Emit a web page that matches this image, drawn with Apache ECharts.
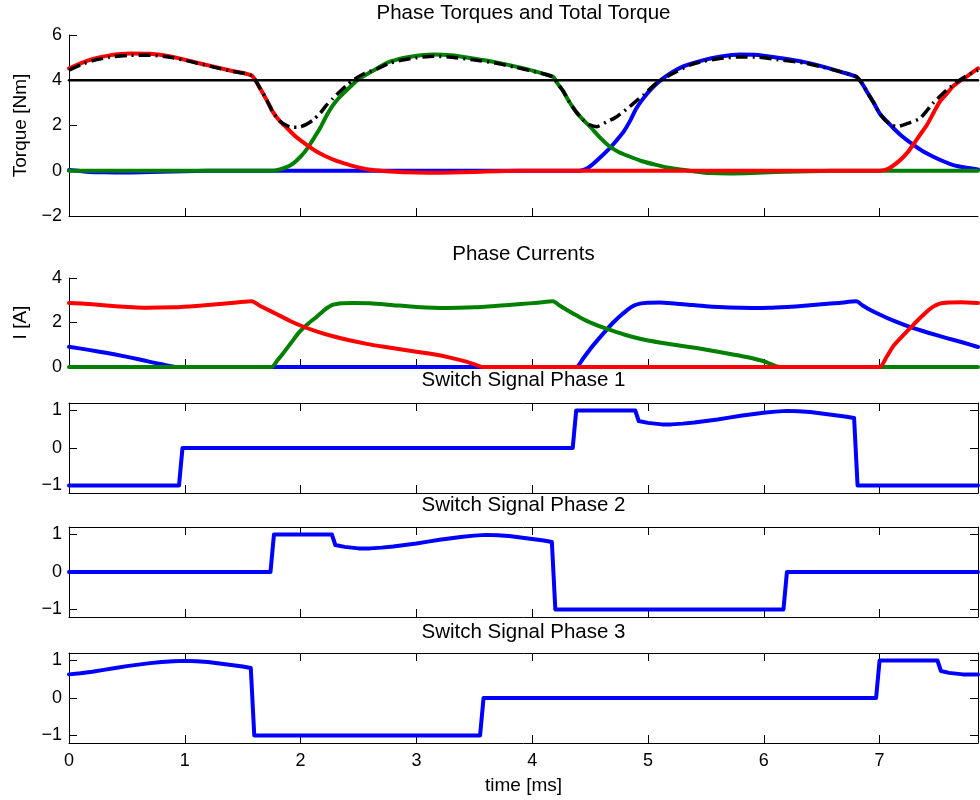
<!DOCTYPE html>
<html>
<head>
<meta charset="utf-8">
<script src="https://cdn.jsdelivr.net/npm/echarts@6/dist/echarts.min.js"></script>
<style>
  html, body { margin: 0; padding: 0; background: #fff; }
  #chart { width: 980px; height: 800px; }
</style>
</head>
<body>
<div id="chart"></div>
<script>
// ---- tick values ----
const timeTicks = [0, 1, 2, 3, 4, 5, 6, 7];
const torqueTicks = [-2, 0, 2, 4, 6];
const currentTicks = [0, 2, 4];
const switchTicks = [-1, 0, 1];

// ---- reference torque level [Nm] ----
const torqueRef = 4;

// ---- phase torques [t ms, Nm] ----
const torquePhase1 = [[0,0.03],[0.15,-0.04],[0.3,-0.07],[0.5,-0.08],[0.7,-0.06],[0.9,-0.03],[1.1,-0.01],[1.3,0],[4.40,0],[4.45,0.05],[4.5,0.19],[4.58,0.55],[4.67,1.0],[4.73,1.35],[4.79,1.73],[4.85,2.25],[4.9,2.76],[4.96,3.2],[5.02,3.57],[5.13,4.08],[5.3,4.6],[5.48,4.89],[5.62,5.04],[5.79,5.14],[5.95,5.12],[6.17,4.96],[6.35,4.8],[6.51,4.6],[6.68,4.35],[6.8,4.15],[6.85,3.85],[6.89,3.5],[6.95,3.0],[7.0,2.54],[7.06,2.2],[7.12,1.88],[7.2,1.5],[7.29,1.15],[7.37,0.87],[7.46,0.63],[7.55,0.42],[7.63,0.26],[7.75,0.13],[7.85,0.06]];
const torquePhase2 = [[0,0],[1.76,0],[1.82,0.06],[1.88,0.16],[1.94,0.34],[2.0,0.62],[2.06,1.0],[2.11,1.4],[2.17,1.9],[2.22,2.4],[2.28,2.9],[2.34,3.27],[2.4,3.57],[2.51,4.08],[2.66,4.52],[2.77,4.82],[2.95,5.04],[3.15,5.14],[3.3,5.1],[3.49,4.96],[3.68,4.8],[3.86,4.6],[4.02,4.4],[4.18,4.15],[4.22,3.85],[4.27,3.5],[4.32,3.05],[4.38,2.6],[4.44,2.25],[4.5,1.95],[4.58,1.5],[4.67,1.07],[4.75,0.82],[4.84,0.63],[4.95,0.42],[5.07,0.26],[5.18,0.13],[5.3,0.04],[5.42,-0.04],[5.53,-0.1],[5.7,-0.12],[5.9,-0.1],[6.1,-0.06],[6.3,-0.03],[6.5,-0.01],[6.7,0],[7.85,0]];
const torquePhase3 = [[0,4.52],[0.1,4.75],[0.2,4.93],[0.35,5.1],[0.53,5.18],[0.7,5.17],[0.9,5.03],[1.07,4.82],[1.25,4.6],[1.42,4.4],[1.58,4.2],[1.65,3.64],[1.71,3.1],[1.76,2.6],[1.82,2.2],[1.88,1.9],[1.96,1.5],[2.05,1.15],[2.13,0.87],[2.22,0.63],[2.31,0.44],[2.4,0.29],[2.48,0.17],[2.57,0.07],[2.67,0.01],[2.77,-0.03],[2.9,-0.07],[3.1,-0.09],[3.3,-0.08],[3.5,-0.05],[3.7,-0.02],[3.9,0],[7.0,0],[7.08,0.1],[7.18,0.48],[7.24,0.8],[7.29,1.15],[7.35,1.6],[7.41,2.03],[7.47,2.6],[7.52,3.05],[7.58,3.4],[7.63,3.71],[7.69,3.95],[7.75,4.15],[7.85,4.52]];
const torqueTotal = [[0,4.45],[0.1,4.68],[0.2,4.86],[0.35,5.02],[0.53,5.1],[0.7,5.11],[0.9,4.99],[1.07,4.8],[1.25,4.58],[1.42,4.39],[1.58,4.2],[1.65,3.64],[1.71,3.1],[1.76,2.6],[1.82,2.2],[1.88,2.0],[1.93,1.92],[1.99,1.93],[2.05,2.05],[2.11,2.25],[2.17,2.55],[2.22,2.88],[2.28,3.2],[2.34,3.5],[2.4,3.78],[2.45,4.0],[2.55,4.3],[2.66,4.5],[2.77,4.76],[2.95,4.96],[3.15,5.06],[3.3,5.02],[3.49,4.9],[3.68,4.76],[3.86,4.57],[4.02,4.38],[4.18,4.15],[4.22,3.85],[4.27,3.5],[4.32,3.05],[4.38,2.6],[4.44,2.25],[4.5,2.02],[4.56,1.95],[4.64,2.15],[4.73,2.39],[4.84,2.83],[4.96,3.35],[5.07,3.86],[5.19,4.23],[5.36,4.67],[5.48,4.84],[5.62,4.96],[5.79,5.03],[5.95,5.02],[6.17,4.88],[6.35,4.76],[6.51,4.58],[6.68,4.35],[6.8,4.15],[6.85,3.85],[6.89,3.5],[6.95,3.0],[7.0,2.54],[7.05,2.22],[7.1,2.02],[7.15,1.95],[7.22,2.05],[7.35,2.32],[7.46,2.98],[7.58,3.57],[7.69,4.0],[7.77,4.25],[7.85,4.45]];

// ---- phase currents [t ms, A] ----
const currentPhase1 = [[0,0.91],[0.17,0.77],[0.33,0.63],[0.47,0.49],[0.6,0.35],[0.7,0.23],[0.8,0.12],[0.87,0.05],[0.93,0],[4.38,0],[4.44,0.38],[4.5,0.8],[4.57,1.24],[4.64,1.66],[4.7,2.0],[4.75,2.25],[4.82,2.56],[4.88,2.76],[4.93,2.85],[5.0,2.89],[5.1,2.9],[5.2,2.87],[5.35,2.8],[5.5,2.73],[5.7,2.67],[5.9,2.65],[6.05,2.66],[6.2,2.7],[6.35,2.75],[6.5,2.82],[6.65,2.88],[6.8,2.95],[6.85,2.78],[6.9,2.62],[7.0,2.36],[7.12,2.08],[7.26,1.8],[7.42,1.54],[7.58,1.3],[7.72,1.1],[7.85,0.9]];
const currentPhase2 = [[0,0],[1.75,0],[1.8,0.3],[1.85,0.62],[1.92,1.1],[1.99,1.58],[2.07,1.97],[2.14,2.26],[2.21,2.58],[2.28,2.8],[2.36,2.87],[2.45,2.88],[2.6,2.86],[2.8,2.78],[3.0,2.7],[3.25,2.65],[3.5,2.68],[3.7,2.75],[3.9,2.83],[4.05,2.89],[4.18,2.95],[4.24,2.75],[4.3,2.56],[4.41,2.24],[4.52,1.96],[4.64,1.72],[4.8,1.45],[4.99,1.2],[5.2,1.02],[5.42,0.85],[5.64,0.65],[5.85,0.45],[6.0,0.26],[6.14,0],[7.85,0]];
const currentPhase3 = [[0,2.88],[0.2,2.82],[0.4,2.73],[0.55,2.68],[0.67,2.66],[0.9,2.68],[1.1,2.74],[1.3,2.83],[1.45,2.9],[1.58,2.96],[1.64,2.78],[1.7,2.62],[1.8,2.36],[1.91,2.07],[2.02,1.82],[2.15,1.58],[2.28,1.38],[2.42,1.2],[2.57,1.04],[2.72,0.91],[2.86,0.8],[3.0,0.69],[3.15,0.57],[3.3,0.41],[3.43,0.24],[3.52,0.08],[3.57,0],[7.0,0],[7.06,0.45],[7.12,0.95],[7.19,1.35],[7.26,1.72],[7.33,2.1],[7.4,2.45],[7.46,2.7],[7.52,2.85],[7.6,2.9],[7.7,2.91],[7.85,2.88]];

// ---- switch signals [t ms, -] ----
const switchPhase1 = [[0,-1],[0.95,-1],[0.98,0],[4.35,0],[4.38,1],[4.89,1],[4.92,0.72],[5.0,0.67],[5.12,0.63],[5.2,0.63],[5.3,0.65],[5.4,0.68],[5.5,0.72],[5.6,0.76],[5.7,0.81],[5.8,0.86],[5.9,0.9],[6.0,0.94],[6.1,0.97],[6.2,0.99],[6.3,0.98],[6.4,0.96],[6.5,0.92],[6.6,0.88],[6.7,0.84],[6.78,0.8],[6.81,-1],[7.85,-1]];
const switchPhase2 = [[0,0],[1.74,0],[1.77,1],[2.27,1],[2.3,0.72],[2.38,0.67],[2.5,0.63],[2.6,0.63],[2.7,0.65],[2.8,0.68],[2.9,0.72],[3.0,0.76],[3.1,0.81],[3.2,0.86],[3.3,0.9],[3.4,0.94],[3.5,0.97],[3.6,0.99],[3.7,0.98],[3.8,0.96],[3.9,0.92],[4.0,0.88],[4.1,0.84],[4.17,0.8],[4.2,-1],[6.17,-1],[6.2,0],[7.85,0]];
const switchPhase3 = [[0,0.63],[0.1,0.66],[0.2,0.7],[0.3,0.75],[0.4,0.8],[0.5,0.85],[0.6,0.89],[0.7,0.93],[0.8,0.96],[0.9,0.98],[1.0,0.99],[1.1,0.98],[1.2,0.96],[1.3,0.92],[1.4,0.88],[1.5,0.84],[1.57,0.8],[1.6,-1],[3.55,-1],[3.58,0],[6.97,0],[7.0,1],[7.5,1],[7.53,0.72],[7.6,0.67],[7.72,0.63],[7.85,0.63]];

const FONT = '"Liberation Sans", Arial, Helvetica, sans-serif';
const BLUE = '#0000ff', GREEN = '#008000', RED = '#ff0000', BLACK = '#000000';
const T_MAX = 7.85;

const chart = echarts.init(document.getElementById('chart'), null, { renderer: 'canvas' });

const minus = v => String(v).replace('-', '\u2212');

// stacked panels; the switch-signal panels are boxed
const panels = [
  { top: 35,  height: 181, box: false, yMin: -2,   yMax: 6,   ticks: torqueTicks,  name: 'Torque [Nm]' },
  { top: 278, height: 89,  box: false, yMin: 0,    yMax: 4,   ticks: currentTicks, name: 'I [A]' },
  { top: 403, height: 90,  box: true,  yMin: -1.2, yMax: 1.2, ticks: switchTicks,  name: '' },
  { top: 527, height: 90,  box: true,  yMin: -1.2, yMax: 1.2, ticks: switchTicks,  name: '' },
  { top: 653, height: 90,  box: true,  yMin: -1.2, yMax: 1.2, ticks: switchTicks,  name: '' }
];

const grid = [], xAxis = [], yAxis = [];
const axisLine = { show: true, onZero: false, lineStyle: { color: BLACK, width: 1 } };
panels.forEach((p, i) => {
  grid.push({ left: 69, width: 909, top: p.top, height: p.height });
  const last = i === panels.length - 1;
  xAxis.push({
    type: 'value', gridIndex: i, position: 'bottom', min: 0, max: T_MAX,
    axisLine,
    axisTick: { show: true, inside: true, length: 8, customValues: timeTicks, lineStyle: { color: BLACK } },
    axisLabel: { show: last, customValues: timeTicks, margin: 9, fontSize: 18, fontFamily: FONT, color: BLACK },
    splitLine: { show: false },
    name: last ? 'time [ms]' : '', nameLocation: 'middle', nameGap: 33,
    nameTextStyle: { fontSize: 19, fontFamily: FONT, color: BLACK }
  });
  yAxis.push({
    type: 'value', gridIndex: i, position: 'left', min: p.yMin, max: p.yMax,
    axisLine,
    axisTick: { show: true, inside: true, length: 8, customValues: p.ticks, lineStyle: { color: BLACK } },
    axisLabel: { customValues: p.ticks, margin: 7, fontSize: 18, fontFamily: FONT, color: BLACK, formatter: minus },
    splitLine: { show: false },
    name: p.name, nameLocation: 'middle', nameGap: 39,
    nameTextStyle: { fontSize: 19, fontFamily: FONT, color: BLACK }
  });
  if (p.box) {
    xAxis.push({
      type: 'value', gridIndex: i, position: 'top', min: 0, max: T_MAX,
      axisLine,
      axisTick: { show: true, inside: true, length: 8, customValues: timeTicks, lineStyle: { color: BLACK } },
      axisLabel: { show: false }, splitLine: { show: false }
    });
    yAxis.push({
      type: 'value', gridIndex: i, position: 'right', min: p.yMin, max: p.yMax,
      axisLine,
      axisTick: { show: true, inside: true, length: 8, customValues: p.ticks, lineStyle: { color: BLACK } },
      axisLabel: { show: false }, splitLine: { show: false }
    });
  }
});

// bottom x / left y axis index of each panel
const xIdx = [0, 1, 2, 4, 6];
const yIdx = [0, 1, 2, 4, 6];

function line(panel, data, color, width, smooth) {
  return {
    type: 'line', xAxisIndex: xIdx[panel], yAxisIndex: yIdx[panel], data,
    showSymbol: false, symbol: 'none', silent: true, animation: false,
    smooth: smooth || false,
    lineStyle: { color, width, cap: 'round', join: 'round' }
  };
}

const series = [
  line(0, torquePhase1, BLUE, 4, 0.2),
  line(0, torquePhase2, GREEN, 4, 0.2),
  line(0, torquePhase3, RED, 4, 0.2),
  line(0, [[0, torqueRef], [T_MAX, torqueRef]], BLACK, 2.5),
  line(0, torqueTotal, BLACK, 3.5, 0.2),
  line(1, currentPhase1, BLUE, 4, 0.2),
  line(1, currentPhase2, GREEN, 4, 0.2),
  line(1, currentPhase3, RED, 4, 0.2),
  line(2, switchPhase1, BLUE, 4),
  line(3, switchPhase2, BLUE, 4),
  line(4, switchPhase3, BLUE, 4)
];
// dash-dot style for the total torque
series[4].lineStyle = { color: BLACK, width: 3.5, type: [12, 5, 2, 5], cap: 'butt' };

const titles = [
  ['Phase Torques and Total Torque', 13],
  ['Phase Currents', 254],
  ['Switch Signal Phase 1', 380],
  ['Switch Signal Phase 2', 505],
  ['Switch Signal Phase 3', 632]
];

chart.setOption({
  backgroundColor: '#ffffff',
  animation: false,
  grid, xAxis, yAxis, series,
  graphic: titles.map(([text, y]) => ({
    type: 'text', x: 523.5, y, silent: true,
    style: { text, fill: BLACK, font: '20.5px ' + FONT, fontSize: 20.5, fontFamily: FONT,
             align: 'center', verticalAlign: 'middle', textAlign: 'center', textVerticalAlign: 'middle' }
  }))
});
</script>
</body>
</html>
